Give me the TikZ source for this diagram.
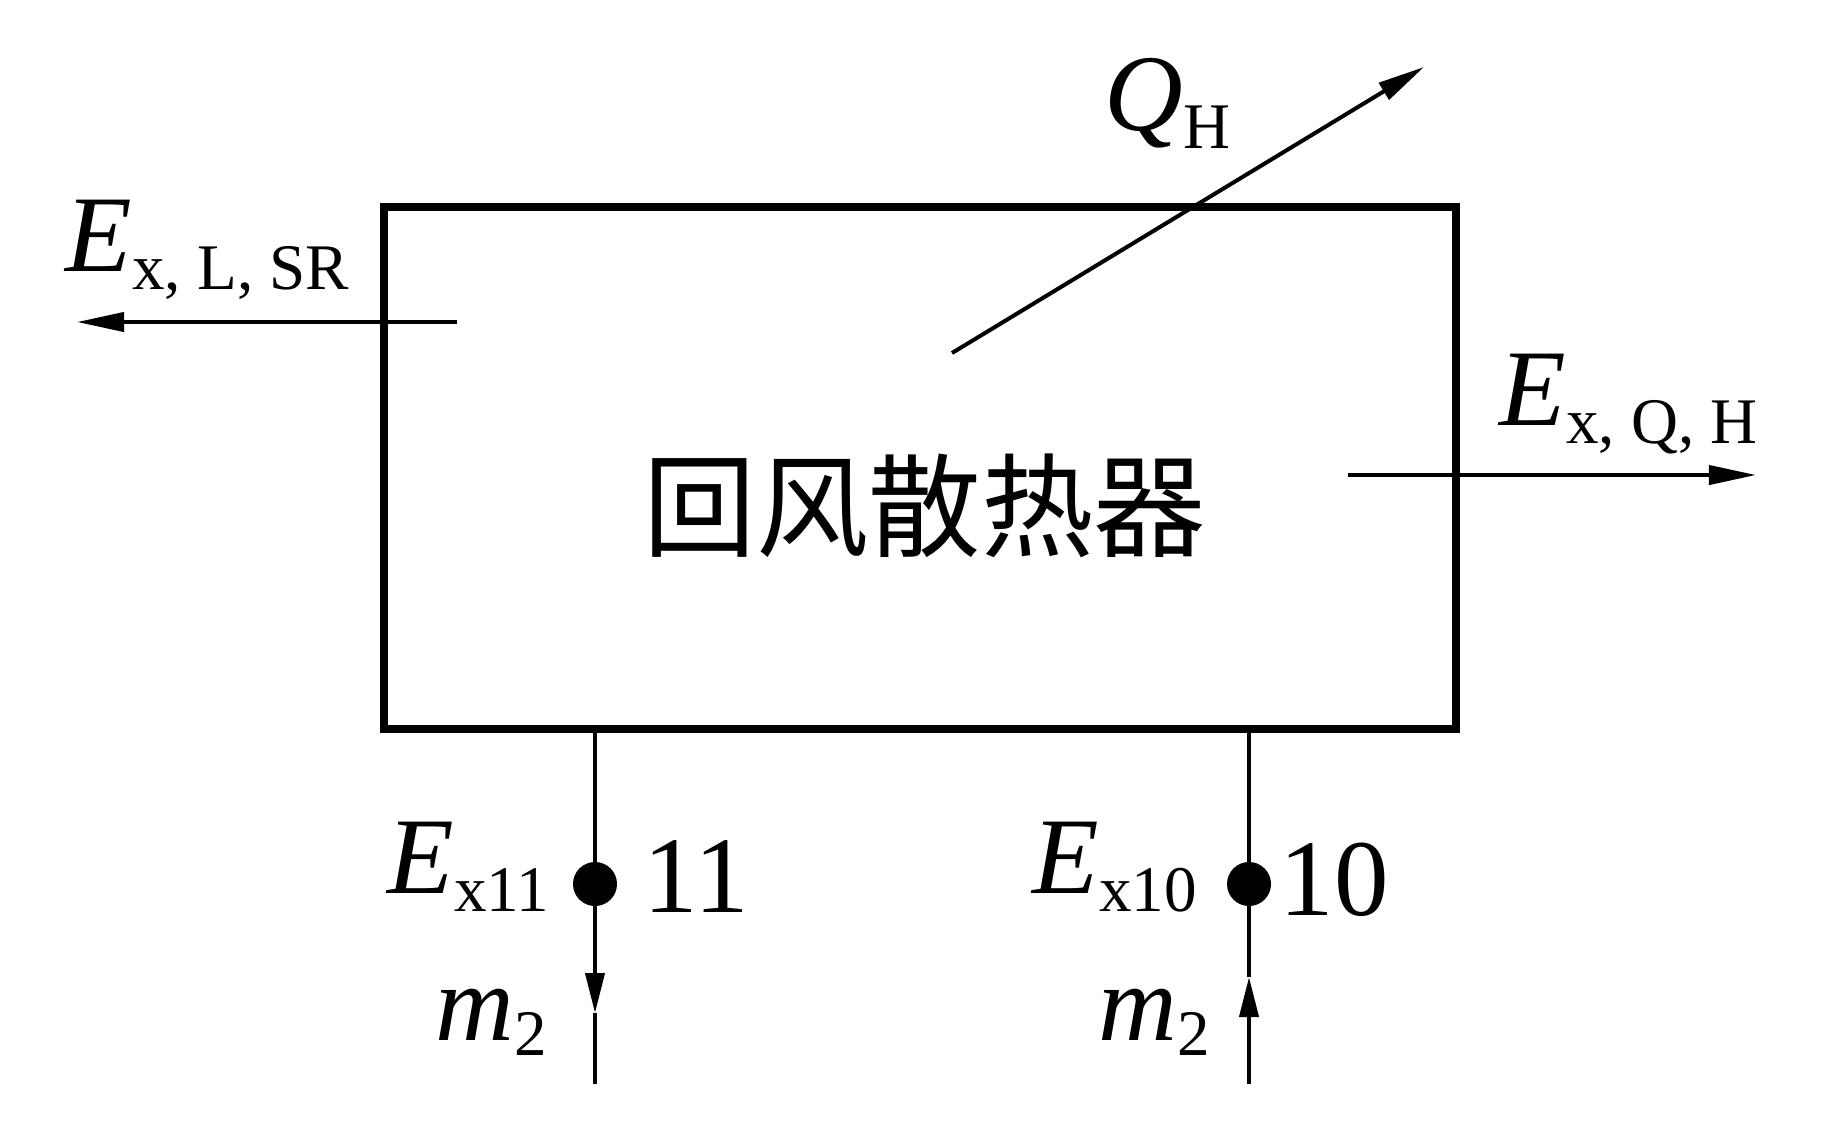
\documentclass[tikz,border=0pt]{standalone}
\usepackage{fontspec}
\setmainfont{Liberation Serif}
\newfontfamily\cjk{Noto Sans CJK SC}
\usetikzlibrary{arrows.meta}
\newcommand\bigf{\fontsize{31}{34}\selectfont}
\newcommand\subf{\fontsize{18.5}{20}\selectfont}
\newcommand\lab[3]{\bigf\textit{#1}\raisebox{-#3}{\subf #2}}
\begin{document}
\begin{tikzpicture}[x=0.01cm,y=-0.01cm,
  lbl/.style={inner sep=0pt, anchor=base west},
  ln/.style={line width=1.14pt},
  arr/.style={line width=1.14pt, -{Triangle[length=0.47cm,width=0.19cm]}},
  dotn/.style={circle, fill=black, inner sep=0pt, minimum size=0.44cm}]
\useasboundingbox (0,0) rectangle (1842,1147);
% main box
\node[draw, line width=2.34pt, minimum width=10.72cm, minimum height=5.22cm, inner sep=0pt] (box) at (920,468) {};
\node[inner sep=0pt] (title) at (925,506) {\fontsize{32}{36}\selectfont\cjk 回风散热器};
% left arrow
\coordinate (l1) at (457,322);
\coordinate (l2) at (77,322);
\draw[arr] (l1) -- (l2);
\node[lbl] (ELSR) at (65,271) {\lab{E}{x, L, SR}{0.18cm}};
% right arrow
\coordinate (r1) at (1348,475);
\coordinate (r2) at (1756,475);
\draw[arr] (r1) -- (r2);
\node[lbl] (EQH) at (1499,425) {\lab{E}{x, Q, H}{0.18cm}};
% Q arrow
\coordinate (q1) at (952,353);
\coordinate (q2) at (1424,67);
\draw[arr] (q1) -- (q2);
\node[lbl] (QH) at (1104,130) {\lab{Q}{H}{0.18cm}};
% bottom left stream 11
\coordinate (a0) at (595,729);
\node[dotn] (d11) at (595,884) {};
\coordinate (a1) at (595,1013);
\coordinate (a2) at (595,1084);
\draw[ln] (a0) -- (d11.center);
\draw[arr, -{Triangle[length=0.4cm,width=0.19cm]}] (d11.center) -- (a1);
\draw[ln] (a1) -- (a2);
\node[lbl] (E11) at (387,893) {\lab{E}{x11}{0.18cm}};
\node[lbl] (n11) at (643,912) {\bigf 11};
\node[lbl] (m2a) at (435,1040) {\lab{m}{2}{0.15cm}};
% bottom right stream 10
\coordinate (b0) at (1249,729);
\node[dotn] (d10) at (1249,884) {};
\coordinate (b1) at (1249,977);
\coordinate (b2) at (1249,1084);
\draw[arr, -{Triangle[length=0.4cm,width=0.19cm]}] (b2) -- (b1);
\draw[ln] (b1) -- (b0);
\node[lbl] (E10) at (1032,893) {\lab{E}{x10}{0.18cm}};
\node[lbl] (n10) at (1279,915) {\bigf 10};
\node[lbl] (m2b) at (1098,1040) {\lab{m}{2}{0.15cm}};
\end{tikzpicture}
\end{document}
